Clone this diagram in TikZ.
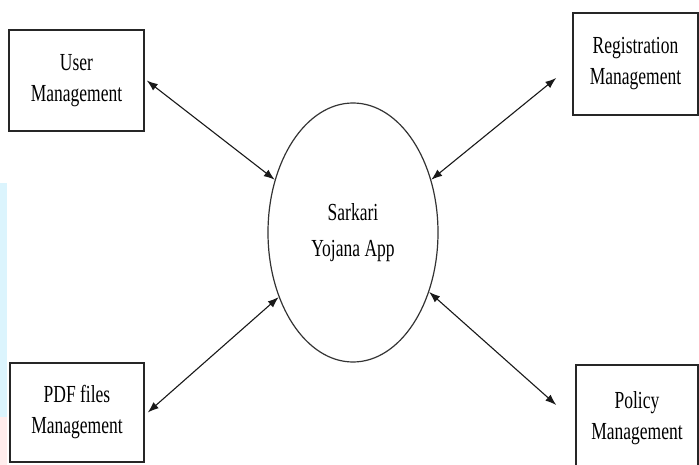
\documentclass[tikz,border=0pt]{standalone}
\usepackage{fontspec}
\setmainfont{Liberation Serif}
\usetikzlibrary{arrows.meta,shapes.geometric}
\newcommand{\vs}[1]{\scalebox{1}[1.4]{#1}}
\begin{document}
\begin{tikzpicture}[x=1pt,y=-1pt,
  box/.style={draw=black!85,line width=1.5pt,rectangle,align=center,inner sep=0pt,
    font=\fontsize{17.5}{31}\selectfont,text=black},
  bubble/.style={draw=black!80,line width=1.2pt,ellipse,align=center,inner sep=0pt,
    minimum width=170pt,minimum height=259pt,font=\fontsize{17.5}{36}\selectfont,text=black},
  arr/.style={{Latex[length=11pt,width=8pt]}-{Latex[length=11pt,width=8pt]},line width=1.1pt,draw=black!90}]
\useasboundingbox (0,0) rectangle (699,465);
\clip (0,0) rectangle (699,465);
\fill[white] (0,0) rectangle (699,465);
\fill[cyan!14] (0,183) rectangle (7,417);
\fill[red!7] (0,417) rectangle (7,465);

\node[box,minimum width=135pt,minimum height=101pt] (user) at (76.5,80.5) {\vs{User}\\\vs{Management}};
\node[box,minimum width=125pt,minimum height=102pt] (reg) at (635.5,64) {\vs{Registration}\\\vs{Management}};
\node[box,minimum width=134pt,minimum height=99pt] (pdf) at (77,412.5) {\vs{PDF files}\\\vs{Management}};
\node[box,minimum width=122pt,minimum height=106pt] (pol) at (637,418) {\vs{Policy}\\\vs{Management}};
\node[bubble] (app) at (353,232.5) {\vs{Sarkari}\\\vs{Yojana App}};

\draw[arr] ([xshift=2pt]user.east) -- (app.146);
\draw[arr] (app.34) -- ([xshift=-16pt,yshift=-14pt]reg.west);
\draw[arr] ([xshift=3pt]pdf.east) -- (app.221);
\draw[arr] (app.322) -- ([xshift=-19pt,yshift=13pt]pol.west);
\end{tikzpicture}
\end{document}
